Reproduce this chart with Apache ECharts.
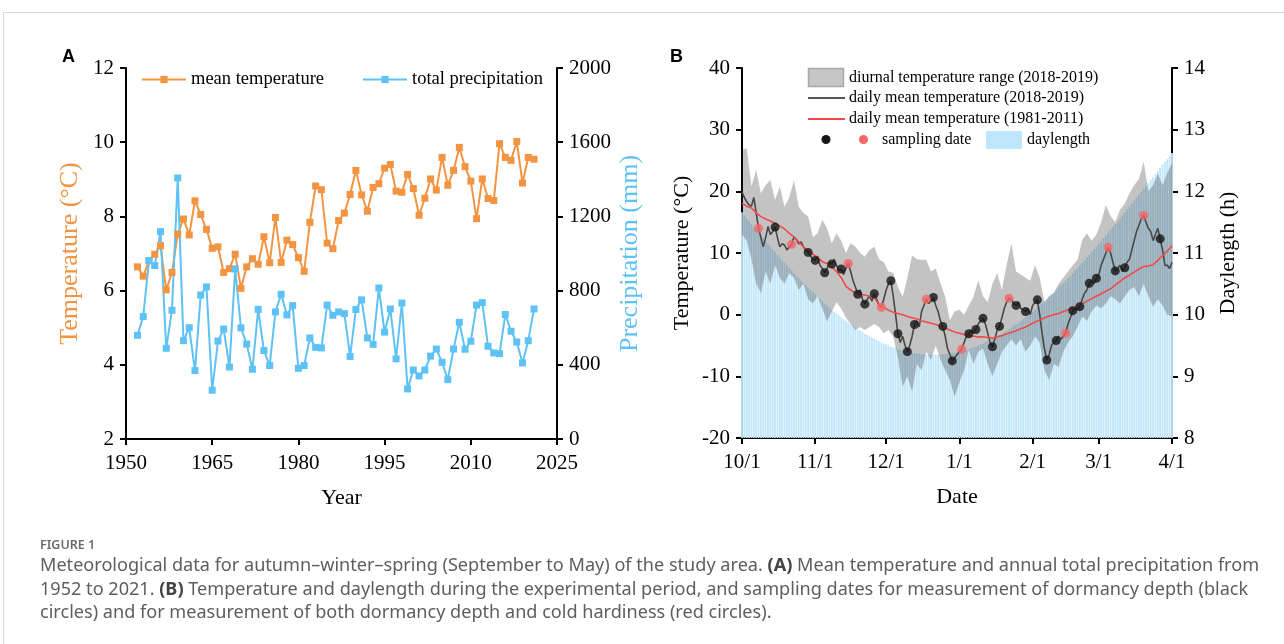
<!DOCTYPE html>
<html>
<head>
<meta charset="utf-8">
<script src="https://cdn.jsdelivr.net/npm/echarts@6/dist/echarts.min.js"></script>
<style>
  html, body { margin: 0; padding: 0; background: #fff; }
  #c { width: 1284px; height: 644px; }
</style>
</head>
<body>
<div id="c"></div>
<script>
// ---------- Panel A: yearly series ----------
const years = [1952,1953,1954,1955,1956,1957,1958,1959,1960,1961,1962,1963,1964,1965,1966,1967,1968,1969,1970,1971,
  1972,1973,1974,1975,1976,1977,1978,1979,1980,1981,1982,1983,1984,1985,1986,1987,1988,1989,1990,1991,
  1992,1993,1994,1995,1996,1997,1998,1999,2000,2001,2002,2003,2004,2005,2006,2007,2008,2009,2010,2011,
  2012,2013,2014,2015,2016,2017,2018,2019,2020,2021];
const meanTemp = [6.64,6.39,6.80,6.98,7.21,6.02,6.49,7.52,7.93,7.50,8.42,8.05,7.65,7.14,7.18,6.49,6.59,6.98,6.06,6.64,
  6.86,6.71,7.45,6.75,7.97,6.76,7.36,7.24,6.89,6.52,7.84,8.82,8.72,7.28,7.13,7.89,8.09,8.59,9.24,8.58,
  8.14,8.78,8.88,9.30,9.40,8.68,8.65,9.13,8.75,8.03,8.49,9.01,8.71,9.59,8.84,9.24,9.86,9.34,8.95,7.94,
  9.01,8.48,8.43,9.96,9.59,9.51,10.02,8.90,9.59,9.54];
const totalPrecip = [559,660,962,935,1118,489,694,1407,530,600,369,776,820,263,528,593,388,917,599,512,
  376,699,477,396,685,780,669,719,381,396,545,494,491,722,667,685,676,445,698,750,
  545,510,814,576,701,432,733,270,372,340,372,447,485,413,320,485,629,484,527,722,
  735,500,464,460,671,581,523,410,530,701];

// ---------- Panel B: daily series, day 0 = 10/1 ----------
const dateTickDays = [0, 31, 61, 92, 123, 151, 182];
const dateTickLabels = ['10/1', '11/1', '12/1', '1/1', '2/1', '3/1', '4/1'];

// every second day for the diurnal range and the long-term mean
const bandDays = [0,2,4,6,8,10,12,14,16,18,20,22,24,26,28,30,32,34,36,38,40,42,44,46,48,50,52,54,56,58,
  60,62,64,66,68,70,72,74,76,78,80,82,84,86,88,90,92,94,96,98,100,102,104,106,108,110,112,114,116,118,
  120,122,124,126,128,130,132,134,136,138,140,142,144,146,148,150,152,154,156,158,160,162,164,166,168,170,172,174,176,178,
  180,182];
const dailyMax = [26.7,27.0,20.8,23.5,19.7,21.0,21.8,18.6,20.8,17.5,
  19.0,21.8,17.5,16.5,15.9,12.6,13.2,15.4,14.0,11.6,
  13.2,12.0,10.0,11.6,11.0,10.0,9.4,10.5,11.0,9.0,
  8.5,7.0,6.8,4.5,2.9,6.0,9.6,9.0,8.9,8.9,
  7.0,7.5,5.1,2.9,-0.9,0.5,0.8,0.0,1.5,2.9,
  5.6,3.0,2.0,5.0,6.7,4.0,8.0,11.6,7.0,6.5,
  6.0,5.5,8.0,6.0,2.0,3.0,3.5,5.0,6.0,7.0,
  8.0,8.9,12.1,13.2,12.0,13.0,15.0,17.8,16.0,15.0,
  17.0,18.0,19.7,21.0,22.0,24.8,20.0,21.0,22.9,21.0,
  23.0,24.6];
const dailyMin = [13.0,12.0,9.0,5.0,3.5,7.0,5.0,8.0,6.0,5.0,
  6.7,6.0,4.0,5.0,2.5,1.8,3.0,1.0,-1.1,0.5,
  2.0,1.0,-0.5,-1.5,-2.5,-2.0,-2.5,-2.0,-1.5,-2.0,
  -3.0,-2.5,-3.6,-7.0,-11.7,-10.0,-12.5,-8.0,-9.0,-6.0,
  -7.3,-5.0,-7.3,-9.0,-10.6,-13.3,-11.0,-9.0,-5.7,-8.0,
  -6.0,-5.5,-8.0,-10.0,-8.0,-6.0,-5.0,-4.0,-5.0,-4.0,
  -6.0,-5.0,-3.5,-4.5,-9.0,-10.6,-8.0,-8.5,-6.0,-4.5,
  -3.5,-2.0,-0.3,-1.0,0.5,1.5,1.0,1.8,3.0,2.5,
  1.8,3.0,4.0,4.5,3.0,5.0,3.0,1.3,2.5,1.5,
  0.0,-0.3];
const climMean = [18.1,17.6,17.3,16.5,15.9,15.5,15.2,14.8,14.4,13.9,
  13.2,12.6,11.8,11.0,10.4,9.8,9.3,8.6,8.3,7.7,
  7.0,6.0,4.6,4.0,3.5,3.3,3.2,3.0,2.8,1.6,
  1.2,0.7,0.4,0.2,0.0,-0.3,-0.5,-0.7,-1.0,-1.2,
  -1.4,-1.6,-1.9,-2.2,-2.5,-2.8,-3.0,-3.2,-3.4,-3.5,
  -3.6,-3.6,-3.7,-3.8,-3.6,-3.4,-3.1,-2.9,-2.6,-2.3,
  -2.0,-1.6,-1.2,-0.9,-0.5,-0.2,0.0,0.2,0.5,0.8,
  1.1,1.4,1.8,2.2,2.6,3.0,3.4,3.8,4.2,4.8,
  5.4,6.0,6.4,6.9,7.4,7.8,7.9,8.1,8.8,9.6,
  10.3,11.2];
// daily values, 10/1 .. 4/1
const dailyMean = [19.9,19.0,18.3,17.8,17.6,19.0,16.5,14.0,12.5,11.0,
  12.5,14.3,13.0,13.5,14.2,12.5,11.0,11.5,11.3,10.5,
  11.0,11.4,12.6,12.2,11.5,11.8,11.0,10.4,10.1,9.5,
  9.0,8.8,9.5,8.0,7.5,6.8,7.5,8.5,8.2,9.0,
  8.0,7.2,7.4,6.5,7.5,8.3,7.0,5.5,4.5,3.3,
  4.0,2.5,1.7,2.5,3.0,2.2,3.4,2.5,1.5,1.2,
  2.5,4.0,5.0,5.5,3.0,0.0,-3.1,-4.5,-3.5,-5.0,
  -6.0,-5.0,-3.5,-1.6,-1.0,-2.0,0.5,1.5,2.5,1.8,
  2.2,2.8,1.5,0.5,-1.0,-1.9,-3.5,-5.5,-6.5,-7.5,
  -7.0,-6.5,-6.0,-5.6,-4.5,-3.5,-3.1,-2.5,-3.0,-2.4,
  -1.5,-1.0,-0.6,-1.5,-3.0,-4.5,-5.2,-4.0,-2.5,-1.9,
  -0.5,1.0,2.0,2.65,2.5,1.8,1.5,2.0,1.0,0.8,
  0.5,1.0,0.0,1.5,2.0,2.4,0.0,-3.0,-5.5,-7.35,
  -6.5,-5.0,-4.5,-4.2,-3.5,-4.0,-3.5,-3.0,-1.5,-0.5,
  0.65,1.0,0.8,1.3,2.5,3.5,4.0,5.1,5.5,5.0,
  5.9,6.5,8.0,9.0,10.0,10.9,10.0,8.5,7.1,7.5,
  8.0,7.0,7.6,8.5,9.0,10.5,12.0,13.5,14.5,15.5,
  16.1,15.0,14.0,13.5,12.0,13.0,14.0,12.3,10.5,8.0,
  8.0,7.5,8.5];
const daylength = [11.66,11.61,11.56,11.52,11.47,11.42,11.38,11.33,11.29,11.24,
  11.19,11.15,11.10,11.06,11.02,10.97,10.93,10.88,10.84,10.80,
  10.76,10.72,10.67,10.63,10.59,10.55,10.51,10.48,10.44,10.40,
  10.36,10.33,10.29,10.25,10.22,10.18,10.15,10.12,10.08,10.05,
  10.02,9.99,9.96,9.93,9.90,9.87,9.84,9.82,9.79,9.76,
  9.74,9.72,9.69,9.67,9.65,9.63,9.61,9.59,9.57,9.55,
  9.53,9.52,9.50,9.48,9.47,9.46,9.44,9.43,9.42,9.41,
  9.40,9.39,9.38,9.38,9.37,9.37,9.36,9.36,9.35,9.35,
  9.35,9.35,9.35,9.35,9.35,9.36,9.36,9.37,9.37,9.38,
  9.38,9.39,9.40,9.41,9.42,9.43,9.44,9.46,9.47,9.48,
  9.50,9.52,9.53,9.55,9.57,9.59,9.61,9.63,9.65,9.67,
  9.69,9.72,9.74,9.76,9.79,9.82,9.84,9.87,9.90,9.93,
  9.96,9.99,10.02,10.05,10.08,10.12,10.15,10.18,10.22,10.25,
  10.29,10.33,10.36,10.40,10.44,10.48,10.51,10.55,10.59,10.63,
  10.67,10.72,10.76,10.80,10.84,10.88,10.93,10.97,11.02,11.06,
  11.10,11.15,11.19,11.24,11.29,11.33,11.38,11.42,11.47,11.52,
  11.56,11.61,11.66,11.71,11.75,11.80,11.85,11.90,11.95,11.99,
  12.04,12.09,12.14,12.19,12.23,12.28,12.33,12.38,12.43,12.48,
  12.52,12.57,12.62];
// sampling dates (day index): dormancy depth only / dormancy depth + cold hardiness
const blackSampleDays = [14,28,31,35,38,42,49,52,56,63,66,70,73,81,85,89,96,99,102,106,109,116,120,125,129,133,140,143,147,150,158,162,177];
const redSampleDays = [7,21,45,59,78,93,113,137,155,170];

// ---------- styling ----------
const SERIF = 'Liberation Serif';
const SANS = 'Liberation Sans';
const ORANGE = '#F39442';
const BLUE = '#5EC2F5';
const dayIndex = dailyMean.map((_, i) => String(i));
const tickLabelOf = {};
dateTickDays.forEach((d, i) => { tickLabelOf[d] = dateTickLabels[i]; });

function baseAxis(extra) {
  return Object.assign({
    axisLine: { show: true, onZero: false, lineStyle: { color: '#000', width: 2 } },
    axisTick: { show: true, inside: false, length: 6, lineStyle: { color: '#000', width: 2 } },
    axisLabel: { color: '#000', fontFamily: SERIF, fontSize: 21, margin: 12, formatter: (v) => String(v) },
    splitLine: { show: false },
    nameLocation: 'middle',
    nameTextStyle: { color: '#000', fontFamily: SERIF, fontSize: 22 }
  }, extra);
}

const chart = echarts.init(document.getElementById('c'));

const legendText = { fontFamily: SERIF, fontSize: 18.5, color: '#000' };

const option = {
  animation: false,
  backgroundColor: '#fff',
  grid: [
    { left: 126, top: 68, width: 431, height: 371 },
    { left: 742, top: 68, width: 430, height: 370 }
  ],
  legend: [
    { data: ['mean temperature'], left: 141, top: 70, padding: 0, itemWidth: 44, itemHeight: 9, itemGap: 0,
      textStyle: legendText },
    { data: ['total precipitation'], left: 362, top: 70, padding: 0, itemWidth: 44, itemHeight: 9, itemGap: 0,
      textStyle: legendText }
  ],
  xAxis: [
    baseAxis({ gridIndex: 0, type: 'value', min: 1950, max: 2025, interval: 15,
      name: 'Year', nameGap: 48,
      axisLabel: { color: '#000', fontFamily: SERIF, fontSize: 21, margin: 14, formatter: (v) => String(v) } }),
    baseAxis({ gridIndex: 1, type: 'category', data: dayIndex, boundaryGap: false,
      name: 'Date', nameGap: 48,
      axisTick: { show: true, length: 6, lineStyle: { color: '#000', width: 2 },
        interval: (i) => tickLabelOf[i] !== undefined },
      axisLabel: { color: '#000', fontFamily: SERIF, fontSize: 21, margin: 14,
        interval: (i) => tickLabelOf[i] !== undefined,
        formatter: (v) => tickLabelOf[+v] || '' } })
  ],
  yAxis: [
    baseAxis({ gridIndex: 0, type: 'value', min: 2, max: 12, interval: 2,
      name: 'Temperature (°C)', nameGap: 43, nameRotate: 90,
      nameTextStyle: { color: ORANGE, fontFamily: SERIF, fontSize: 26 } }),
    baseAxis({ gridIndex: 0, type: 'value', min: 0, max: 2000, interval: 400, position: 'right',
      name: 'Precipitation (mm)', nameGap: 60, nameRotate: 90,
      nameTextStyle: { color: BLUE, fontFamily: SERIF, fontSize: 26 } }),
    baseAxis({ gridIndex: 1, type: 'value', min: -20, max: 40, interval: 10,
      name: 'Temperature (°C)', nameGap: 49, nameRotate: 90 }),
    baseAxis({ gridIndex: 1, type: 'value', min: 8, max: 14, interval: 1, position: 'right',
      name: 'Daylength (h)', nameGap: 45, nameRotate: 90 })
  ],
  series: [
    // Panel A
    { name: 'mean temperature', type: 'line', xAxisIndex: 0, yAxisIndex: 0,
      data: years.map((y, i) => [y, meanTemp[i]]),
      symbol: 'rect', symbolSize: 7,
      lineStyle: { color: ORANGE, width: 2 }, itemStyle: { color: ORANGE } },
    { name: 'total precipitation', type: 'line', xAxisIndex: 0, yAxisIndex: 1,
      data: years.map((y, i) => [y, totalPrecip[i]]),
      symbol: 'rect', symbolSize: 7,
      lineStyle: { color: BLUE, width: 2 }, itemStyle: { color: BLUE } },
    // Panel B: daylength bars
    { name: 'daylength', type: 'bar', xAxisIndex: 1, yAxisIndex: 3, data: daylength,
      barCategoryGap: '22%', itemStyle: { color: '#C0E6FB' }, silent: true },
    // diurnal range band (min + range stacked)
    { name: 'range base', type: 'line', xAxisIndex: 1, yAxisIndex: 2, stack: 'band', stackStrategy: 'all',
      data: bandDays.map((d, i) => [d, dailyMin[i]]),
      symbol: 'none', lineStyle: { opacity: 0 }, silent: true },
    { name: 'diurnal temperature range (2018-2019)', type: 'line', xAxisIndex: 1, yAxisIndex: 2,
      stack: 'band', stackStrategy: 'all',
      data: bandDays.map((d, i) => [d, +(dailyMax[i] - dailyMin[i]).toFixed(2)]),
      symbol: 'none', lineStyle: { opacity: 0 }, areaStyle: { color: 'rgba(40,40,40,0.28)', opacity: 1 }, silent: true },
    { name: 'daily mean temperature (2018-2019)', type: 'line', xAxisIndex: 1, yAxisIndex: 2,
      data: dailyMean, symbol: 'none', lineStyle: { color: '#474747', width: 1.6 } },
    { name: 'daily mean temperature (1981-2011)', type: 'line', xAxisIndex: 1, yAxisIndex: 2,
      data: bandDays.map((d, i) => [d, climMean[i]]), symbol: 'none',
      lineStyle: { color: '#F24A4A', width: 1.6 } },
    { name: 'dormancy depth', type: 'scatter', xAxisIndex: 1, yAxisIndex: 2,
      data: blackSampleDays.map(d => [d, dailyMean[d]]), symbolSize: 9,
      itemStyle: { color: '#151515' }, z: 5 },
    { name: 'dormancy depth and cold hardiness', type: 'scatter', xAxisIndex: 1, yAxisIndex: 2,
      data: redSampleDays.map(d => [d, dailyMean[d]]), symbolSize: 9,
      itemStyle: { color: '#F56565' }, z: 5 }
  ],
  graphic: [
    // card frame
    { type: 'line', shape: { x1: 3.5, y1: 12.5, x2: 1284, y2: 12.5 }, style: { stroke: '#d6d6d6', lineWidth: 1 }, silent: true },
    { type: 'line', shape: { x1: 3.5, y1: 12.5, x2: 3.5, y2: 644 }, style: { stroke: '#d6d6d6', lineWidth: 1 }, silent: true },
    // panel letters
    { type: 'text', style: { x: 62, y: 57, text: 'A', fontFamily: SANS, fontSize: 18, fontWeight: 'bold', fill: '#000', verticalAlign: 'middle' } },
    { type: 'text', style: { x: 670, y: 57, text: 'B', fontFamily: SANS, fontSize: 18, fontWeight: 'bold', fill: '#000', verticalAlign: 'middle' } },
    // panel B legend
    { type: 'rect', shape: { x: 808.5, y: 68.5, width: 35, height: 18 }, style: { fill: '#c6c6c6', stroke: '#a9a9a9', lineWidth: 1.5 } },
    { type: 'text', style: { x: 849, y: 77.5, text: 'diurnal temperature range (2018-2019)', fontFamily: SERIF, fontSize: 16, fill: '#000', verticalAlign: 'middle' } },
    { type: 'line', shape: { x1: 808, y1: 98, x2: 845, y2: 98 }, style: { stroke: '#555', lineWidth: 2 } },
    { type: 'text', style: { x: 849, y: 98, text: 'daily mean temperature (2018-2019)', fontFamily: SERIF, fontSize: 16, fill: '#000', verticalAlign: 'middle' } },
    { type: 'line', shape: { x1: 808, y1: 119, x2: 845, y2: 119 }, style: { stroke: '#F24A4A', lineWidth: 2 } },
    { type: 'text', style: { x: 849, y: 119, text: 'daily mean temperature (1981-2011)', fontFamily: SERIF, fontSize: 16, fill: '#000', verticalAlign: 'middle' } },
    { type: 'circle', shape: { cx: 826, cy: 139.5, r: 4.5 }, style: { fill: '#151515' } },
    { type: 'circle', shape: { cx: 863.5, cy: 139.5, r: 4.5 }, style: { fill: '#F56565' } },
    { type: 'text', style: { x: 882, y: 139.5, text: 'sampling date', fontFamily: SERIF, fontSize: 16, fill: '#000', verticalAlign: 'middle' } },
    { type: 'rect', shape: { x: 986, y: 131, width: 36, height: 18 }, style: { fill: '#C0E6FB' } },
    { type: 'text', style: { x: 1027, y: 140, text: 'daylength', fontFamily: SERIF, fontSize: 16, fill: '#000', verticalAlign: 'middle' } },
    // caption
    { type: 'text', style: { x: 40, y: 545, text: 'FIGURE 1', fontFamily: 'Noto Sans', fontSize: 12.5, fontWeight: 600, fill: '#6b6b6b', verticalAlign: 'middle' } },
    { type: 'text', style: { x: 40, y: 566, verticalAlign: 'middle', fontFamily: 'Noto Sans', fontSize: 18.1, fill: '#5e5e5e',
      text: 'Meteorological data for autumn\u2013winter\u2013spring (September to May) of the study area. {b|(A)} Mean temperature and annual total precipitation from',
      rich: { b: { fontFamily: 'Noto Sans', fontSize: 18.1, fontWeight: 'bold', fill: '#444' } } } },
    { type: 'text', style: { x: 40, y: 590, verticalAlign: 'middle', fontFamily: 'Noto Sans', fontSize: 18.1, fill: '#5e5e5e',
      text: '1952 to 2021. {b|(B)} Temperature and daylength during the experimental period, and sampling dates for measurement of dormancy depth (black',
      rich: { b: { fontFamily: 'Noto Sans', fontSize: 18.1, fontWeight: 'bold', fill: '#444' } } } },
    { type: 'text', style: { x: 40, y: 613, verticalAlign: 'middle', fontFamily: 'Noto Sans', fontSize: 18.1, fill: '#5e5e5e',
      text: 'circles) and for measurement of both dormancy depth and cold hardiness (red circles).' } }
  ]
};

chart.setOption(option);
</script>
</body>
</html>
